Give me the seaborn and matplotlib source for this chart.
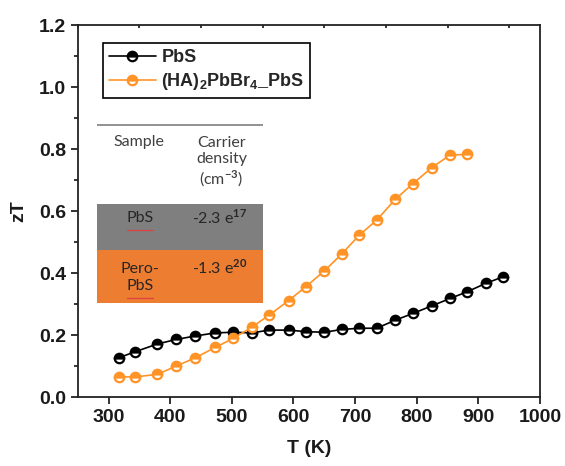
import numpy as np
import pandas as pd
import matplotlib
matplotlib.use("Agg")
import matplotlib.pyplot as plt
from matplotlib.patches import Rectangle
from matplotlib.ticker import MultipleLocator
import seaborn as sns

# data
temp = [317, 343, 379, 410, 441, 473, 502, 532, 561, 592, 620,
        650, 678, 707, 735, 765, 794, 824, 854, 882, 912, 940]
zt_pbs = [0.127, 0.146, 0.171, 0.186, 0.197, 0.207, 0.209, 0.207, 0.216, 0.216, 0.211,
          0.209, 0.218, 0.222, 0.222, 0.248, 0.270, 0.294, 0.318, 0.340, 0.367, 0.388]
zt_pero = [0.065, 0.065, 0.073, 0.100, 0.127, 0.160, 0.189, 0.225, 0.265, 0.311,
           0.356, 0.407, 0.461, 0.523, 0.571, 0.638, 0.689, 0.740, 0.781, 0.783]

series_names = ["PbS", r"(HA)$_{\mathbf{2}}$PbBr$_{\mathbf{4}}$_PbS"]
series_colors = ["black", "#ff9326"]

table_header = ["Sample", "Carrier\ndensity\n(cm$^{\\mathrm{-3}}$)"]
table_rows = [["PbS", "-2.3 e$^{\\mathrm{17}}$"],
              ["Pero-\nPbS", "-1.3 e$^{\\mathrm{20}}$"]]
row_colors = ["#7f7f7f", "#ed7d31"]

sns.set_style("ticks")
plt.rcParams["font.family"] = ["Liberation Sans", "DejaVu Sans"]
plt.rcParams["font.weight"] = "bold"
plt.rcParams["mathtext.fontset"] = "custom"
plt.rcParams["mathtext.rm"] = "Lato"
plt.rcParams["mathtext.bf"] = "Liberation Sans:bold"

fig = plt.figure(figsize=(5.65, 4.66), dpi=100)
ax = fig.add_axes([0.1375, 0.148, 0.8185, 0.798])

df1 = pd.DataFrame({"T": temp, "zT": zt_pbs})
df2 = pd.DataFrame({"T": temp[:len(zt_pero)], "zT": zt_pero})

for d, name, col in zip([df1, df2], series_names, series_colors):
    sns.lineplot(data=d, x="T", y="zT", ax=ax, color=col, label=name,
                 marker="o", markersize=6.8, fillstyle="top",
                 markerfacecolor=col, markerfacecoloralt="white",
                 markeredgecolor=col, markeredgewidth=1.6, linewidth=1.2)

ax.set_xlim(250, 1000)
ax.set_ylim(0, 1.2)
ax.xaxis.set_major_locator(MultipleLocator(100))
ax.yaxis.set_major_locator(MultipleLocator(0.2))
ax.yaxis.set_minor_locator(MultipleLocator(0.1))
ax.xaxis.set_minor_locator(MultipleLocator(100, offset=50))
ax.yaxis.set_major_formatter(matplotlib.ticker.FormatStrFormatter("%.1f"))

for s in ax.spines.values():
    s.set_visible(True)
    s.set_linewidth(1.3)
    s.set_color("#222222")

ax.tick_params(axis="both", which="major", direction="out", length=5, width=1.3,
               labelsize=14, colors="#222222", labelcolor="#1a1a1a")
ax.tick_params(axis="y", which="minor", direction="out", length=3, width=1.3)
ax.tick_params(axis="x", which="minor", bottom=False, top=True, direction="in",
               length=2, width=1.3)
for lab in ax.get_xticklabels() + ax.get_yticklabels():
    lab.set_fontweight("bold")

ax.set_xlabel("T (K)", fontsize=14, fontweight="bold", labelpad=10, color="#1a1a1a")
ax.set_ylabel("zT", fontsize=14, fontweight="bold", labelpad=8, color="#1a1a1a")

leg = ax.legend(loc="upper left", bbox_to_anchor=(0.054, 0.952), borderaxespad=0,
                fancybox=False, framealpha=1, edgecolor="black", handlelength=2.6,
                handletextpad=0.3, borderpad=0.35, labelspacing=0.25,
                prop={"weight": "bold", "size": 13})
leg.get_frame().set_linewidth(1.2)

# inset table
tab = fig.add_axes([0.1717, 0.3476, 0.2938, 0.3948])
tab.set_xlim(0, 1)
tab.set_ylim(0, 1)
tab.axis("off")
tab.plot([0.0, 1.0], [0.973, 0.973], color="#7f7f7f", lw=1.2)
tab.add_patch(Rectangle((0, 0.293), 1, 0.25, color=row_colors[0], lw=0))
tab.add_patch(Rectangle((0, 0.005), 1, 0.288, color=row_colors[1], lw=0))

tfont = dict(family="Lato", fontweight="normal", fontsize=11.5, ha="center")
tab.text(0.25, 0.88, table_header[0], color="#404040", va="center", **tfont)
tab.text(0.75, 0.915, table_header[1], color="#404040", va="top",
         linespacing=1.2, **tfont)
tab.text(0.26, 0.47, table_rows[0][0], color="#262626", va="center", **tfont)
tab.text(0.74, 0.47, table_rows[0][1], color="#262626", va="center", **tfont)
tab.text(0.26, 0.23, table_rows[1][0], color="#262626", va="top",
         linespacing=1.3, **tfont)
tab.text(0.74, 0.20, table_rows[1][1], color="#262626", va="center", **tfont)
# spell-check squiggles under PbS
tab.plot([0.18, 0.34], [0.405, 0.405], color="#e04040", lw=0.9)
tab.plot([0.18, 0.34], [0.03, 0.03], color="#e04040", lw=0.9)

fig.savefig("out.png", dpi=100)
